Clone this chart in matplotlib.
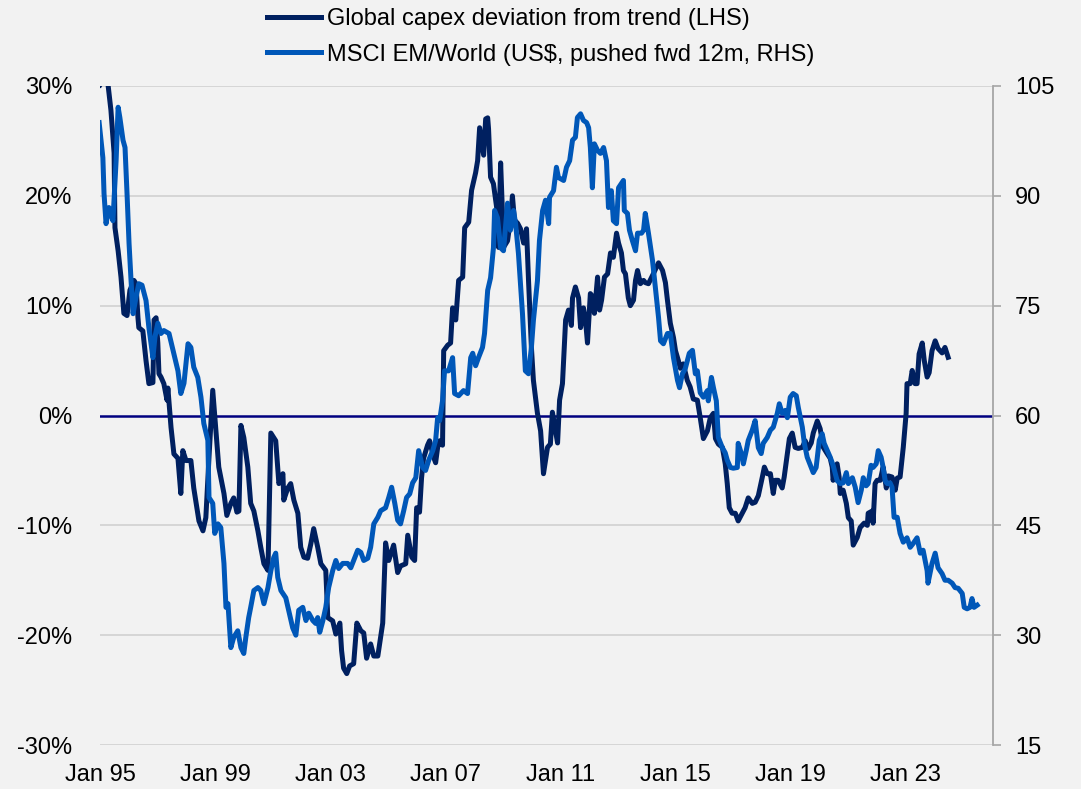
import matplotlib
matplotlib.use("Agg")
import matplotlib.pyplot as plt

plt.rcParams['font.family'] = ['Liberation Sans', 'DejaVu Sans']

# ----------------- Data -----------------
# Global capex deviation from trend, % (LHS); time as decimal years
cap_t = [1995.00, 1995.14, 1995.28, 1995.38, 1995.49, 1995.52, 1995.63, 1995.73, 1995.83, 1995.94,
         1996.04, 1996.18, 1996.25, 1996.32, 1996.35, 1996.49, 1996.60, 1996.70, 1996.84, 1996.88,
         1996.95, 1997.01, 1997.05, 1997.12, 1997.22, 1997.33, 1997.36, 1997.47, 1997.57, 1997.71,
         1997.81, 1997.88, 1997.99, 1998.16, 1998.26, 1998.44, 1998.58, 1998.68, 1998.79, 1998.92,
         1999.03, 1999.13, 1999.31, 1999.41, 1999.55, 1999.65, 1999.76, 1999.83, 1999.90, 2000.00,
         2000.14, 2000.24, 2000.35, 2000.49, 2000.59, 2000.70, 2000.84, 2000.94, 2001.11, 2001.22,
         2001.36, 2001.39, 2001.53, 2001.63, 2001.74, 2001.88, 2001.98, 2002.09, 2002.22, 2002.33,
         2002.43, 2002.57, 2002.68, 2002.85, 2002.92, 2003.09, 2003.20, 2003.34, 2003.40, 2003.47,
         2003.58, 2003.68, 2003.82, 2003.93, 2004.07, 2004.17, 2004.27, 2004.41, 2004.52, 2004.66,
         2004.83, 2004.93, 2005.04, 2005.21, 2005.35, 2005.45, 2005.63, 2005.70, 2005.84, 2005.94,
         2006.01, 2006.11, 2006.18, 2006.25, 2006.39, 2006.46, 2006.60, 2006.67, 2006.74, 2006.81,
         2006.91, 2006.95, 2007.09, 2007.19, 2007.26, 2007.37, 2007.47, 2007.61, 2007.68, 2007.82,
         2007.92, 2008.06, 2008.13, 2008.20, 2008.34, 2008.41, 2008.48, 2008.51, 2008.58, 2008.68,
         2008.82, 2008.86, 2008.93, 2009.00, 2009.03, 2009.17, 2009.27, 2009.34, 2009.41, 2009.52,
         2009.62, 2009.73, 2009.83, 2009.90, 2010.00, 2010.07, 2010.21, 2010.32, 2010.42, 2010.56,
         2010.66, 2010.73, 2010.91, 2010.98, 2011.08, 2011.19, 2011.29, 2011.39, 2011.43, 2011.53,
         2011.64, 2011.71, 2011.81, 2011.88, 2011.95, 2012.05, 2012.16, 2012.19, 2012.30, 2012.37,
         2012.44, 2012.54, 2012.65, 2012.75, 2012.85, 2012.96, 2013.03, 2013.13, 2013.20, 2013.27,
         2013.37, 2013.44, 2013.55, 2013.62, 2013.69, 2013.79, 2013.90, 2013.96, 2014.07, 2014.24,
         2014.42, 2014.56, 2014.66, 2014.73, 2014.83, 2014.94, 2015.01, 2015.11, 2015.18, 2015.28,
         2015.42, 2015.52, 2015.63, 2015.77, 2015.87, 2015.98, 2016.12, 2016.22, 2016.33, 2016.40,
         2016.50, 2016.64, 2016.74, 2016.81, 2016.88, 2016.98, 2017.09, 2017.19, 2017.33, 2017.43,
         2017.54, 2017.68, 2017.78, 2017.89, 2018.03, 2018.10, 2018.20, 2018.31, 2018.41, 2018.48,
         2018.58, 2018.72, 2018.79, 2018.90, 2018.97, 2019.07, 2019.17, 2019.28, 2019.42, 2019.52,
         2019.63, 2019.73, 2019.80, 2019.94, 2020.04, 2020.15, 2020.29, 2020.39, 2020.46, 2020.49,
         2020.63, 2020.70, 2020.74, 2020.84, 2020.95, 2021.02, 2021.12, 2021.19, 2021.33, 2021.43,
         2021.57, 2021.68, 2021.71, 2021.85, 2021.88, 2021.95, 2022.02, 2022.13, 2022.23, 2022.34,
         2022.41, 2022.54, 2022.65, 2022.72, 2022.82, 2022.93, 2023.03, 2023.06, 2023.17, 2023.24,
         2023.34, 2023.41, 2023.48, 2023.59, 2023.66, 2023.76, 2023.83, 2023.93, 2024.04, 2024.14,
         2024.28, 2024.38, 2024.49]
cap_v = [30.1, 30.7, 30.1, 27.8, 23.9, 17.1, 15.0, 12.6, 9.3, 9.1,
         11.4, 12.3, 12.0, 8.9, 8.0, 7.7, 5.0, 2.9, 3.0, 8.7,
         8.9, 6.6, 3.8, 3.5, 2.9, 1.4, 2.5, -1.1, -3.5, -3.9,
         -7.1, -3.2, -4.1, -4.1, -6.6, -9.6, -10.5, -9.3, -3.8, 2.3,
         -1.4, -4.7, -7.1, -9.1, -8.0, -7.5, -8.8, -8.7, -0.9, -2.0,
         -4.7, -8.0, -8.7, -10.5, -12.0, -13.5, -14.1, -1.6, -2.3, -6.2,
         -5.3, -7.7, -6.6, -6.2, -7.7, -8.9, -12.0, -12.9, -13.0, -11.7,
         -10.3, -12.0, -13.5, -14.1, -18.4, -18.7, -19.9, -18.9, -21.4, -23.0,
         -23.5, -22.8, -22.6, -18.9, -19.6, -19.8, -22.1, -20.8, -21.9, -21.9,
         -18.9, -11.6, -13.2, -11.8, -14.3, -13.7, -13.5, -10.9, -12.9, -13.2,
         -8.4, -8.8, -5.7, -3.9, -2.7, -2.3, -3.8, -4.3, -2.9, -2.3,
         -2.7, 5.9, 6.4, 6.6, 9.8, 8.7, 12.3, 12.6, 17.1, 17.6,
         20.5, 22.1, 23.2, 26.2, 23.7, 27.0, 27.1, 26.1, 21.7, 21.1,
         18.4, 15.3, 23.0, 18.0, 15.3, 15.9, 17.8, 20.0, 17.8, 17.5,
         17.0, 15.7, 17.0, 12.3, 6.2, 3.2, 0.2, -1.4, -5.3, -2.9,
         -2.6, 0.3, -2.5, 1.4, 2.9, 8.7, 9.6, 8.2, 10.7, 11.7,
         10.7, 8.0, 9.8, 8.7, 6.6, 11.1, 10.7, 9.3, 12.6, 9.6,
         10.5, 12.6, 12.9, 14.8, 14.4, 16.6, 15.7, 14.8, 13.2, 12.9,
         10.7, 10.0, 10.5, 12.3, 13.2, 12.0, 12.3, 12.1, 12.0, 12.9,
         13.9, 13.2, 12.1, 10.5, 8.4, 7.1, 5.9, 5.0, 4.3, 4.7,
         3.2, 2.6, 1.5, 1.4, -0.2, -2.1, -1.4, -0.2, 0.2, -2.1,
         -2.6, -2.9, -4.4, -6.2, -8.4, -8.9, -8.9, -9.6, -8.9, -8.4,
         -7.5, -8.0, -7.9, -7.3, -5.6, -4.7, -5.3, -5.3, -7.1, -5.9,
         -5.9, -6.6, -5.6, -3.5, -2.1, -1.6, -2.9, -3.0, -2.9, -2.3,
         -3.0, -2.5, -1.6, -0.5, -1.2, -2.9, -3.5, -3.9, -4.7, -5.9,
         -4.4, -5.6, -7.1, -6.8, -8.0, -9.3, -9.6, -11.8, -11.1, -10.2,
         -9.8, -10.0, -8.9, -8.7, -9.8, -6.2, -5.9, -5.9, -4.7, -6.6,
         -5.5, -5.6, -6.8, -5.7, -5.6, -2.9, 0.2, 2.9, 2.9, 4.1,
         2.9, 2.9, 5.6, 6.6, 5.0, 3.5, 3.9, 5.9, 6.8, 6.1,
         5.7, 6.2, 5.3]

# MSCI EM/World (US$, pushed fwd 12m), index (RHS)
msci_t = [1994.97, 1995.10, 1995.14, 1995.21, 1995.31, 1995.45, 1995.56, 1995.63, 1995.69, 1995.80,
          1995.87, 1995.94, 1996.01, 1996.08, 1996.15, 1996.25, 1996.35, 1996.46, 1996.60, 1996.70,
          1996.84, 1996.91, 1997.01, 1997.12, 1997.22, 1997.40, 1997.54, 1997.71, 1997.81, 1997.92,
          1998.06, 1998.16, 1998.26, 1998.40, 1998.51, 1998.61, 1998.75, 1998.79, 1998.92, 1998.99,
          1999.10, 1999.20, 1999.31, 1999.38, 1999.45, 1999.55, 1999.65, 1999.79, 1999.90, 2000.00,
          2000.07, 2000.17, 2000.24, 2000.35, 2000.49, 2000.59, 2000.70, 2000.84, 2000.94, 2001.04,
          2001.11, 2001.18, 2001.29, 2001.46, 2001.56, 2001.70, 2001.81, 2001.91, 2002.05, 2002.16,
          2002.26, 2002.40, 2002.50, 2002.57, 2002.64, 2002.75, 2002.85, 2002.95, 2003.09, 2003.20,
          2003.30, 2003.44, 2003.61, 2003.72, 2003.82, 2003.96, 2004.07, 2004.17, 2004.31, 2004.41,
          2004.52, 2004.66, 2004.76, 2004.93, 2005.04, 2005.14, 2005.25, 2005.35, 2005.45, 2005.56,
          2005.66, 2005.77, 2005.87, 2005.98, 2006.08, 2006.22, 2006.32, 2006.43, 2006.57, 2006.67,
          2006.74, 2006.81, 2006.91, 2006.98, 2007.12, 2007.26, 2007.33, 2007.47, 2007.64, 2007.78,
          2007.89, 2007.96, 2008.06, 2008.16, 2008.30, 2008.37, 2008.48, 2008.58, 2008.68, 2008.72,
          2008.82, 2008.93, 2009.03, 2009.10, 2009.17, 2009.27, 2009.38, 2009.45, 2009.55, 2009.69,
          2009.79, 2009.90, 2010.00, 2010.07, 2010.21, 2010.28, 2010.39, 2010.49, 2010.60, 2010.63,
          2010.77, 2010.87, 2010.94, 2011.12, 2011.22, 2011.33, 2011.43, 2011.53, 2011.60, 2011.71,
          2011.81, 2011.92, 2011.99, 2012.05, 2012.12, 2012.19, 2012.30, 2012.40, 2012.51, 2012.61,
          2012.68, 2012.78, 2012.85, 2012.96, 2013.03, 2013.13, 2013.20, 2013.23, 2013.34, 2013.41,
          2013.51, 2013.62, 2013.69, 2013.83, 2013.90, 2013.96, 2014.07, 2014.21, 2014.31, 2014.42,
          2014.49, 2014.59, 2014.73, 2014.83, 2014.94, 2015.08, 2015.15, 2015.25, 2015.35, 2015.49,
          2015.60, 2015.70, 2015.77, 2015.87, 2015.98, 2016.12, 2016.15, 2016.26, 2016.33, 2016.43,
          2016.50, 2016.64, 2016.74, 2016.81, 2016.92, 2017.02, 2017.16, 2017.19, 2017.30, 2017.37,
          2017.47, 2017.54, 2017.68, 2017.78, 2017.89, 2017.99, 2018.06, 2018.20, 2018.31, 2018.41,
          2018.55, 2018.62, 2018.72, 2018.83, 2018.90, 2019.00, 2019.10, 2019.21, 2019.28, 2019.42,
          2019.49, 2019.59, 2019.70, 2019.80, 2019.90, 2020.01, 2020.11, 2020.18, 2020.29, 2020.39,
          2020.49, 2020.63, 2020.74, 2020.84, 2020.95, 2021.02, 2021.16, 2021.26, 2021.36, 2021.47,
          2021.54, 2021.64, 2021.71, 2021.81, 2021.88, 2021.99, 2022.06, 2022.16, 2022.23, 2022.30,
          2022.37, 2022.47, 2022.54, 2022.61, 2022.72, 2022.82, 2022.93, 2023.06, 2023.17, 2023.27,
          2023.41, 2023.52, 2023.62, 2023.76, 2023.79, 2023.93, 2024.04, 2024.14, 2024.28, 2024.38,
          2024.49, 2024.63, 2024.73, 2024.84, 2024.98, 2025.05, 2025.15, 2025.25, 2025.32, 2025.39,
          2025.50]
msci_v = [100.0, 95.2, 90.3, 86.2, 88.4, 86.6, 94.8, 102.1, 100.7, 97.6,
          96.6, 90.3, 83.5, 78.4, 73.9, 76.1, 78.0, 77.8, 75.7, 72.0,
          67.9, 70.7, 72.6, 71.2, 71.6, 71.2, 68.9, 66.1, 63.0, 64.4,
          69.8, 69.3, 66.6, 65.2, 62.5, 58.9, 56.6, 48.8, 48.0, 43.9,
          45.2, 44.7, 39.8, 33.8, 34.3, 28.3, 29.7, 30.6, 28.3, 27.5,
          29.7, 32.4, 33.8, 36.1, 36.5, 36.1, 34.3, 36.5, 38.8, 40.6,
          41.2, 37.9, 36.1, 35.1, 33.4, 31.0, 30.0, 33.4, 33.8, 32.0,
          33.0, 32.0, 31.6, 32.4, 30.4, 32.0, 33.8, 36.5, 38.8, 40.2,
          39.1, 39.8, 39.8, 39.2, 40.2, 41.6, 41.3, 40.2, 40.5, 42.0,
          45.2, 46.1, 47.0, 47.4, 48.8, 50.2, 48.0, 45.7, 45.2, 47.0,
          48.8, 49.3, 50.8, 51.5, 55.2, 52.9, 52.5, 53.9, 55.2, 56.6,
          59.7, 59.3, 62.0, 66.1, 66.1, 67.9, 63.0, 62.7, 63.4, 63.0,
          67.9, 68.5, 66.8, 67.9, 69.3, 71.2, 77.1, 78.8, 82.9, 88.0,
          87.0, 82.9, 82.5, 85.7, 89.0, 85.3, 88.0, 86.2, 82.1, 73.9,
          66.1, 65.7, 69.3, 73.0, 78.4, 83.9, 88.0, 89.4, 86.2, 89.8,
          90.7, 93.9, 92.5, 92.1, 93.9, 94.8, 97.6, 98.0, 100.7, 101.2,
          100.3, 100.0, 99.3, 96.6, 91.1, 97.1, 96.2, 95.8, 96.6, 94.8,
          88.4, 90.7, 86.6, 86.2, 91.1, 91.7, 92.1, 88.0, 87.6, 85.3,
          83.9, 82.5, 84.9, 84.9, 85.3, 87.6, 84.9, 81.2, 77.5, 73.4,
          70.2, 69.8, 71.2, 71.2, 67.9, 64.8, 63.8, 65.7, 66.4, 68.5,
          68.9, 65.7, 66.1, 63.1, 62.5, 63.4, 62.0, 65.2, 63.8, 62.0,
          57.0, 55.6, 54.9, 53.9, 52.9, 52.8, 52.9, 56.2, 54.8, 53.4,
          55.2, 56.6, 58.0, 59.3, 55.6, 54.8, 56.2, 57.0, 58.0, 58.4,
          60.3, 61.6, 60.3, 60.7, 59.7, 62.5, 63.0, 62.7, 61.1, 58.4,
          56.2, 54.3, 53.2, 52.2, 52.9, 56.6, 57.5, 56.2, 55.2, 54.3,
          53.2, 51.1, 50.7, 50.8, 52.2, 50.7, 51.5, 50.2, 48.1, 49.8,
          51.5, 50.4, 50.7, 53.2, 52.9, 53.4, 55.2, 54.3, 52.9, 51.1,
          50.7, 50.8, 50.2, 46.1, 46.1, 43.9, 42.7, 43.3, 42.0, 42.5,
          43.3, 41.2, 41.6, 38.8, 37.1, 39.8, 41.2, 39.2, 38.4, 37.5,
          37.5, 37.1, 36.5, 36.4, 35.7, 33.8, 33.6, 33.8, 35.0, 33.8,
          34.1]

left_ticks = [-30, -20, -10, 0, 10, 20, 30]
left_labels = ["-30%", "-20%", "-10%", "0%", "10%", "20%", "30%"]
right_ticks = [15, 30, 45, 60, 75, 90, 105]
x_ticks = [1995, 1999, 2003, 2007, 2011, 2015, 2019, 2023]
x_labels = ["Jan 95", "Jan 99", "Jan 03", "Jan 07", "Jan 11", "Jan 15", "Jan 19", "Jan 23"]

DARK = "#002060"
LIGHT = "#0057b8"
BG = "#f2f2f2"
FS = 17

# ----------------- Figure -----------------
fig = plt.figure(figsize=(10.81, 7.89), dpi=100, facecolor=BG)
ax = fig.add_axes([100 / 1081, 1 - 745 / 789, 893 / 1081, 659 / 789])
ax.set_facecolor(BG)
ax2 = ax.twinx()

ax.set_xlim(1995, 2026.05)
ax.set_ylim(-30, 30)
ax2.set_ylim(15, 105)

# grid + zero line
for v in left_ticks:
    if v != 0:
        ax.axhline(v, color="#d3d3d3", lw=1.3, zorder=0)
ax.axhline(0, color="#000080", lw=1.8, zorder=1)

l1, = ax.plot(cap_t, cap_v, color=DARK, lw=3.6, solid_joinstyle="round", zorder=3,
              label="Global capex deviation from trend (LHS)")
l2, = ax2.plot(msci_t, msci_v, color=LIGHT, lw=3.6, solid_joinstyle="round", zorder=3,
               label="MSCI EM/World (US$, pushed fwd 12m, RHS)")

ax.set_yticks(left_ticks)
ax.set_yticklabels(left_labels)
ax.set_xticks(x_ticks)
ax.set_xticklabels(x_labels)
ax2.set_yticks(right_ticks)

ax.tick_params(axis="y", length=0, pad=20, labelsize=FS)
ax.tick_params(axis="x", length=0, pad=14, labelsize=FS)
ax2.tick_params(axis="y", length=6, width=1.2, color="#a6a6a6", pad=10, labelsize=FS)

for s in ax.spines.values():
    s.set_visible(False)
for name, s in ax2.spines.items():
    s.set_visible(name == "right")
ax2.spines["right"].set_color("#a6a6a6")
ax2.spines["right"].set_linewidth(1.3)

fig.legend(handles=[l1, l2], loc="upper center", bbox_to_anchor=(0.5, 0.996),
           frameon=False, fontsize=FS, handlelength=2.3, handletextpad=0.25,
           labelspacing=0.58, borderaxespad=0.1, borderpad=0.1)

fig.savefig("out.png", dpi=100, facecolor=BG)
